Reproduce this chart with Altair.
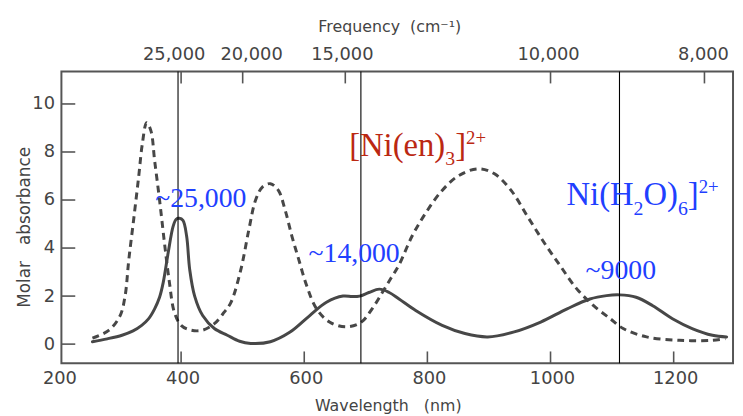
import altair as alt
import pandas as pd

# ---- data ----
h2o_nm = [256, 280, 304, 322, 336, 347, 357, 365, 371, 379, 387, 392, 397, 403, 409, 414,
          422, 435, 454, 475, 495, 513, 545, 577, 609, 636, 663, 678, 690, 705, 722, 738,
          754, 781, 824, 861, 898, 941, 984, 1027, 1064, 1091, 1112, 1139, 1166, 1198,
          1230, 1263, 1286]
h2o_abs = [0.10, 0.22, 0.37, 0.55, 0.78, 1.05, 1.47, 1.95, 2.57, 3.80, 4.90, 5.20, 5.24,
           5.15, 4.49, 3.10, 2.00, 1.19, 0.65, 0.37, 0.12, 0.03, 0.10, 0.50, 1.19, 1.74,
           2.00, 1.98, 2.00, 2.15, 2.29, 2.15, 1.88, 1.40, 0.78, 0.44, 0.30, 0.51, 0.92,
           1.47, 1.88, 2.02, 2.05, 1.95, 1.60, 1.06, 0.65, 0.37, 0.30]

en_nm = [256, 283, 301, 309, 315, 323, 331, 337, 344, 351, 357, 365, 373, 381, 389, 400,
         416, 435, 454, 470, 481, 497, 510, 521, 532, 545, 558, 569, 580, 591, 604, 620,
         641, 668, 692, 711, 727, 741, 754, 775, 797, 824, 851, 883, 909, 936, 963, 990,
         1016, 1043, 1070, 1097, 1118, 1156, 1209, 1263, 1284]
en_abs = [0.25, 0.58, 1.19, 2.00, 3.50, 5.20, 6.95, 8.33, 9.22, 8.88, 7.64, 6.00, 4.21,
          2.57, 1.33, 0.78, 0.58, 0.58, 0.85, 1.33, 1.74, 3.10, 4.76, 6.00, 6.54, 6.68,
          6.40, 5.58, 4.49, 3.53, 2.43, 1.47, 0.92, 0.72, 0.90, 1.50, 2.16, 2.75, 3.30,
          4.49, 5.45, 6.40, 7.02, 7.30, 7.09, 6.40, 5.30, 4.21, 3.25, 2.29, 1.60, 1.06,
          0.65, 0.30, 0.16, 0.16, 0.23]

band_nm = [395, 692, 1112]

x_tick_values = [200, 400, 600, 800, 1000, 1200]
x_tick_labels = ["200", "400", "600", "800", "1000", "1200"]
x_inner_ticks = [400, 600, 800, 1000, 1200]
y_tick_values = [0, 2, 4, 6, 8, 10]
freq_values = [25000, 20000, 15000, 10000, 8000]
freq_labels = ["25,000", "20,000", "15,000", "10,000", "8,000"]
freq_label_dx = [-7, 9, -3, -2, -1]

# peak annotations
peak_text = ["~25,000", "~14,000", "~9000"]
peak_nm = [358, 607, 1057]
peak_abs = [5.70, 3.44, 2.70]

# complex labels: pieces (text, role) where role is main / sub / sup
en_label = [("[Ni(en)", "main"), ("3", "sub"), ("]", "main"), ("2+", "sup")]
en_label_pos = (673, 7.85)
aq_label = [("Ni(H", "main"), ("2", "sub"), ("O)", "main"), ("6", "sub"), ("]", "main"), ("2+", "sup")]
aq_label_pos = (1026, 5.79)

BLUE = "#1f40ff"
RED = "#bb2812"

# ---- layout ----
W, H = 679, 295
X_DOM = [205.6, 1296.4]
Y_DOM = [-0.8, 11.35]
INK = "#474747"
AX = "#444444"
SANS = "DejaVu Sans"
SERIF = "Liberation Serif"
ROLE_SIZE = {"main": 33, "sub": 20, "sup": 19}
ROLE_DY = {"main": 0, "sub": 10, "sup": -12}
# Times-metric advance widths (per 1000 em)
ADV = {"[": 333, "]": 333, "(": 333, ")": 333, "N": 722, "H": 722, "O": 722,
       "i": 278, "e": 444, "n": 500, "+": 564}

xs = alt.Scale(domain=X_DOM, nice=False, zero=False)
ys = alt.Scale(domain=Y_DOM, nice=False, zero=False)

x_axis = alt.Axis(values=x_inner_ticks, ticks=False, domain=False, grid=False, labels=False,
                  title="Wavelength\u00a0\u00a0\u00a0(nm)", titleFont=SANS, titleFontSize=16,
                  titleFontWeight="normal", titleColor=AX, titleX=330, titleY=43,
                  titleBaseline="middle")
y_axis = alt.Axis(values=y_tick_values, ticks=False, domain=False, grid=False,
                  labelFontSize=18, labelColor=AX, labelFont=SANS, labelPadding=7,
                  title="Molar\u00a0\u00a0\u00a0absorbance", titleFont=SANS, titleFontSize=17,
                  titleFontWeight="normal", titleColor=AX, titleX=-37, titleY=157,
                  titleBaseline="middle", titleAngle=270, titleAlign="center")


def X(field):
    return alt.X(field, scale=xs, axis=x_axis)


def Y(field):
    return alt.Y(field, scale=ys, axis=y_axis)


df_h2o = pd.DataFrame({"nm": h2o_nm, "abs": h2o_abs})
df_en = pd.DataFrame({"nm": en_nm, "abs": en_abs})

line_h2o = alt.Chart(df_h2o).mark_line(
    color=INK, strokeWidth=3, interpolate="catmull-rom", strokeCap="round"
).encode(x=X("nm:Q"), y=Y("abs:Q"), order="nm:Q")

line_en = alt.Chart(df_en).mark_line(
    color=INK, strokeWidth=3, interpolate="catmull-rom", strokeDash=[7, 5]
).encode(x=X("nm:Q"), y=Y("abs:Q"), order="nm:Q")

bands = alt.Chart(pd.DataFrame({"nm": band_nm})).mark_rule(
    color="black", strokeWidth=1.1
).encode(x=X("nm:Q"), y=alt.value(0), y2=alt.value(H))

# inward tick marks
bottom_ticks = alt.Chart(pd.DataFrame({"nm": x_inner_ticks})).mark_rule(
    color="#555555", strokeWidth=1.6
).encode(x=X("nm:Q"), y=alt.value(H), y2=alt.value(H - 12))

freq_nm = [1e7 / f for f in freq_values]
top_ticks = alt.Chart(pd.DataFrame({"nm": freq_nm})).mark_rule(
    color="#555555", strokeWidth=1.6
).encode(x=X("nm:Q"), y=alt.value(0), y2=alt.value(12))

left_ticks = alt.Chart(pd.DataFrame({"v": y_tick_values})).mark_rule(
    color="#555555", strokeWidth=1.6
).encode(y=Y("v:Q"), x=alt.value(0), x2=alt.value(14))

# bottom wavelength labels
bottom_labels = alt.Chart(pd.DataFrame({"nm": x_tick_values, "lab": x_tick_labels})).mark_text(
    font=SANS, fontSize=18, color=AX, baseline="middle", align="center", dx=2
).encode(x=X("nm:Q"), y=alt.value(H + 16), text="lab:N")

# top frequency labels
layers_extra = []
for nm_v, lab, dx in zip(freq_nm, freq_labels, freq_label_dx):
    layers_extra.append(
        alt.Chart(pd.DataFrame({"nm": [nm_v], "lab": [lab]})).mark_text(
            font=SANS, fontSize=18, color=AX, dx=dx, baseline="middle", align="center"
        ).encode(x=X("nm:Q"), y=alt.value(-17), text="lab:N")
    )

top_title = alt.Chart(pd.DataFrame({"t": ["Frequency\u00a0\u00a0(cm\u207b\u00b9)"]})).mark_text(
    font=SANS, fontSize=16, color=AX, baseline="middle", align="center"
).encode(x=alt.value(332), y=alt.value(-45), text="t:N")

peaks = alt.Chart(pd.DataFrame({"t": peak_text, "nm": peak_nm, "abs": peak_abs})).mark_text(
    font=SERIF, fontSize=28, color=BLUE, align="left", baseline="alphabetic"
).encode(x=X("nm:Q"), y=Y("abs:Q"), text="t:N")


def formula_layers(pieces, pos, color):
    out = []
    offset = 0.0
    for txt, role in pieces:
        size = ROLE_SIZE[role]
        out.append(
            alt.Chart(pd.DataFrame({"t": [txt], "nm": [pos[0]], "abs": [pos[1]]})).mark_text(
                font=SERIF, fontSize=size, color=color, align="left", baseline="alphabetic",
                dx=round(offset, 1), dy=ROLE_DY[role]
            ).encode(x=X("nm:Q"), y=Y("abs:Q"), text="t:N")
        )
        offset += sum(ADV.get(ch, 500) for ch in txt) / 1000.0 * size
    return out


layers_extra += formula_layers(en_label, en_label_pos, RED)
layers_extra += formula_layers(aq_label, aq_label_pos, BLUE)

chart = alt.layer(
    line_h2o, line_en, bands, bottom_ticks, top_ticks, left_ticks, bottom_labels,
    top_title, peaks, *layers_extra
).properties(
    width=W, height=H,
    autosize=alt.AutoSizeParams(type="none"),
    padding={"left": 54, "top": 62, "right": 2, "bottom": 50},
    background="white",
).configure_view(stroke="#555555", strokeWidth=2)

chart.save("out.html", embed_options={"renderer": "svg", "actions": False})
